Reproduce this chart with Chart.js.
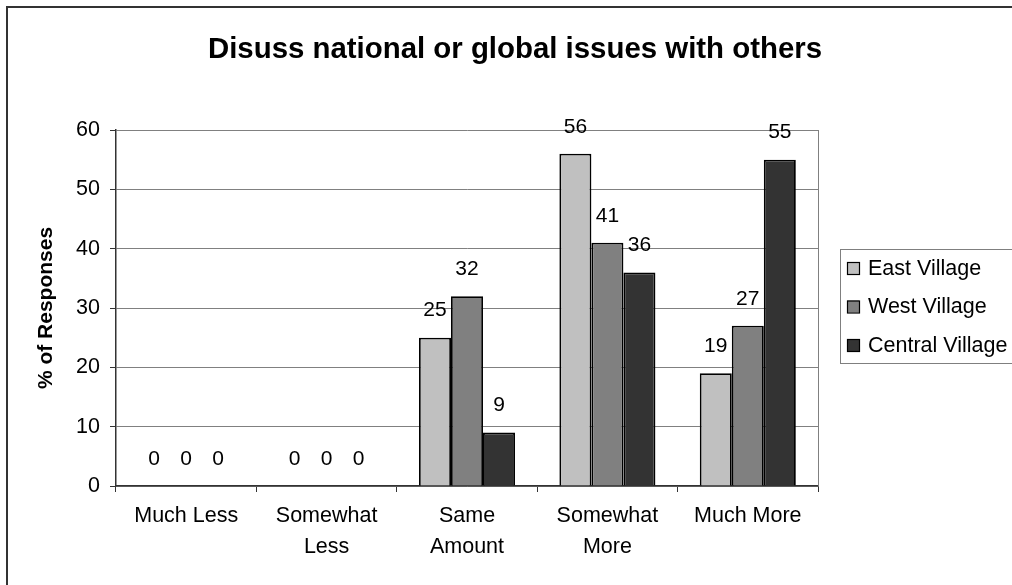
<!DOCTYPE html>
<html>
<head>
<meta charset="utf-8">
<script src="https://cdn.jsdelivr.net/npm/chart.js@4/dist/chart.umd.min.js"></script>
<style>
  html, body { margin: 0; padding: 0; background: #fff; }
  #wrap { width: 1012px; height: 585px; }
</style>
</head>
<body>
<div id="wrap"><canvas id="c" width="1012" height="585"></canvas></div>
<script>
// Response categories (x axis) and per-village percentages
const categories = ['Much Less', ['Somewhat', 'Less'], ['Same', 'Amount'], ['Somewhat', 'More'], 'Much More'];
const seriesNames = ['East Village', 'West Village', 'Central Village'];
const eastVillage = [0, 0, 25, 56, 19];
const westVillage = [0, 0, 32, 41, 27];
const centralVillage = [0, 0, 9, 36, 55];
const yTicks = [0, 10, 20, 30, 40, 50, 60];
const seriesColors = ['#c0c0c0', '#808080', '#333333'];

const titleText = 'Disuss national or global issues with others';
const FONT = '"Liberation Sans", Arial, sans-serif';

// Frame, title, legend and value labels
const decorations = {
  id: 'decorations',
  beforeDraw(chart) {
    const ctx = chart.ctx;
    ctx.save();
    ctx.fillStyle = '#fff';
    ctx.fillRect(0, 0, chart.width, chart.height);
    ctx.strokeStyle = '#333';
    ctx.lineWidth = 2;
    ctx.strokeRect(7, 7, chart.width + 20, chart.height + 20);
    ctx.restore();
  },
  afterDatasetsDraw(chart) {
    const ctx = chart.ctx;
    ctx.save();
    ctx.font = '21px ' + FONT;
    ctx.fillStyle = '#000';
    ctx.textAlign = 'center';
    ctx.textBaseline = 'middle';
    chart.data.datasets.forEach((ds, i) => {
      const meta = chart.getDatasetMeta(i);
      meta.data.forEach((bar, j) => {
        ctx.fillText(String(ds.data[j]), bar.x, bar.y - 27);
      });
    });
    ctx.restore();
  },
  afterDraw(chart) {
    const ctx = chart.ctx;
    const area = chart.chartArea;
    ctx.save();
    // plot area right edge
    ctx.strokeStyle = '#808080';
    ctx.lineWidth = 1;
    ctx.beginPath();
    ctx.moveTo(area.right + 0.5, area.top);
    ctx.lineTo(area.right + 0.5, area.bottom);
    ctx.stroke();

    // title
    ctx.font = 'bold 29.4px ' + FONT;
    ctx.fillStyle = '#000';
    ctx.textAlign = 'center';
    ctx.textBaseline = 'middle';
    ctx.fillText(titleText, 515, 50);

    // legend
    const lx = 840, ly = 249, lw = 200, lh = 114;
    ctx.strokeStyle = '#7f7f7f';
    ctx.lineWidth = 1;
    ctx.strokeRect(lx + 0.5, ly + 0.5, lw, lh);
    ctx.font = '21.5px ' + FONT;
    ctx.textAlign = 'left';
    chart.data.datasets.forEach((ds, i) => {
      const cy = 268 + i * 38.5;
      ctx.fillStyle = ds.backgroundColor;
      ctx.fillRect(847, cy - 6, 12, 12);
      ctx.strokeStyle = '#000';
      ctx.lineWidth = 1.2;
      ctx.strokeRect(847.5, cy - 5.5, 12, 12);
      ctx.fillStyle = '#000';
      ctx.fillText(ds.label, 868, cy + 1);
    });
    ctx.restore();
  }
};

const datasets = [eastVillage, westVillage, centralVillage].map((vals, i) => ({
  label: seriesNames[i],
  data: vals,
  backgroundColor: seriesColors[i],
  borderColor: '#000',
  borderWidth: 1.8,
  barPercentage: 1,
  categoryPercentage: 0.684
}));

new Chart(document.getElementById('c'), {
  type: 'bar',
  data: { labels: categories, datasets },
  options: {
    responsive: false,
    animation: false,
    events: [],
    layout: { padding: { left: 0, right: 194, top: 130, bottom: 0 } },
    plugins: { legend: { display: false }, title: { display: false }, tooltip: { enabled: false } },
    scales: {
      x: {
        afterFit(scale) { scale.height = 99; },
        grid: { display: true, drawOnChartArea: false, drawTicks: true, tickLength: 6, tickColor: '#333', offset: true },
        border: { display: true, color: '#333', width: 1.5 },
        ticks: { color: '#000', font: { family: FONT, size: 21.5, lineHeight: 1.42 }, padding: 9, maxRotation: 0, autoSkip: false }
      },
      y: {
        min: 0,
        max: 60,
        afterFit(scale) { scale.width = 116; },
        afterBuildTicks(scale) { scale.ticks = yTicks.map(v => ({ value: v })); },
        grid: { color: '#808080', lineWidth: 1, tickLength: 6, tickColor: '#333' },
        border: { display: true, color: '#333', width: 1.5 },
        ticks: { color: '#000', font: { family: FONT, size: 21.5 }, padding: 10 },
        title: { display: true, text: '% of Responses', color: '#000', font: { family: FONT, size: 21, weight: 'bold' }, padding: { top: 34, bottom: 0 } }
      }
    }
  },
  plugins: [decorations]
});
</script>
</body>
</html>
